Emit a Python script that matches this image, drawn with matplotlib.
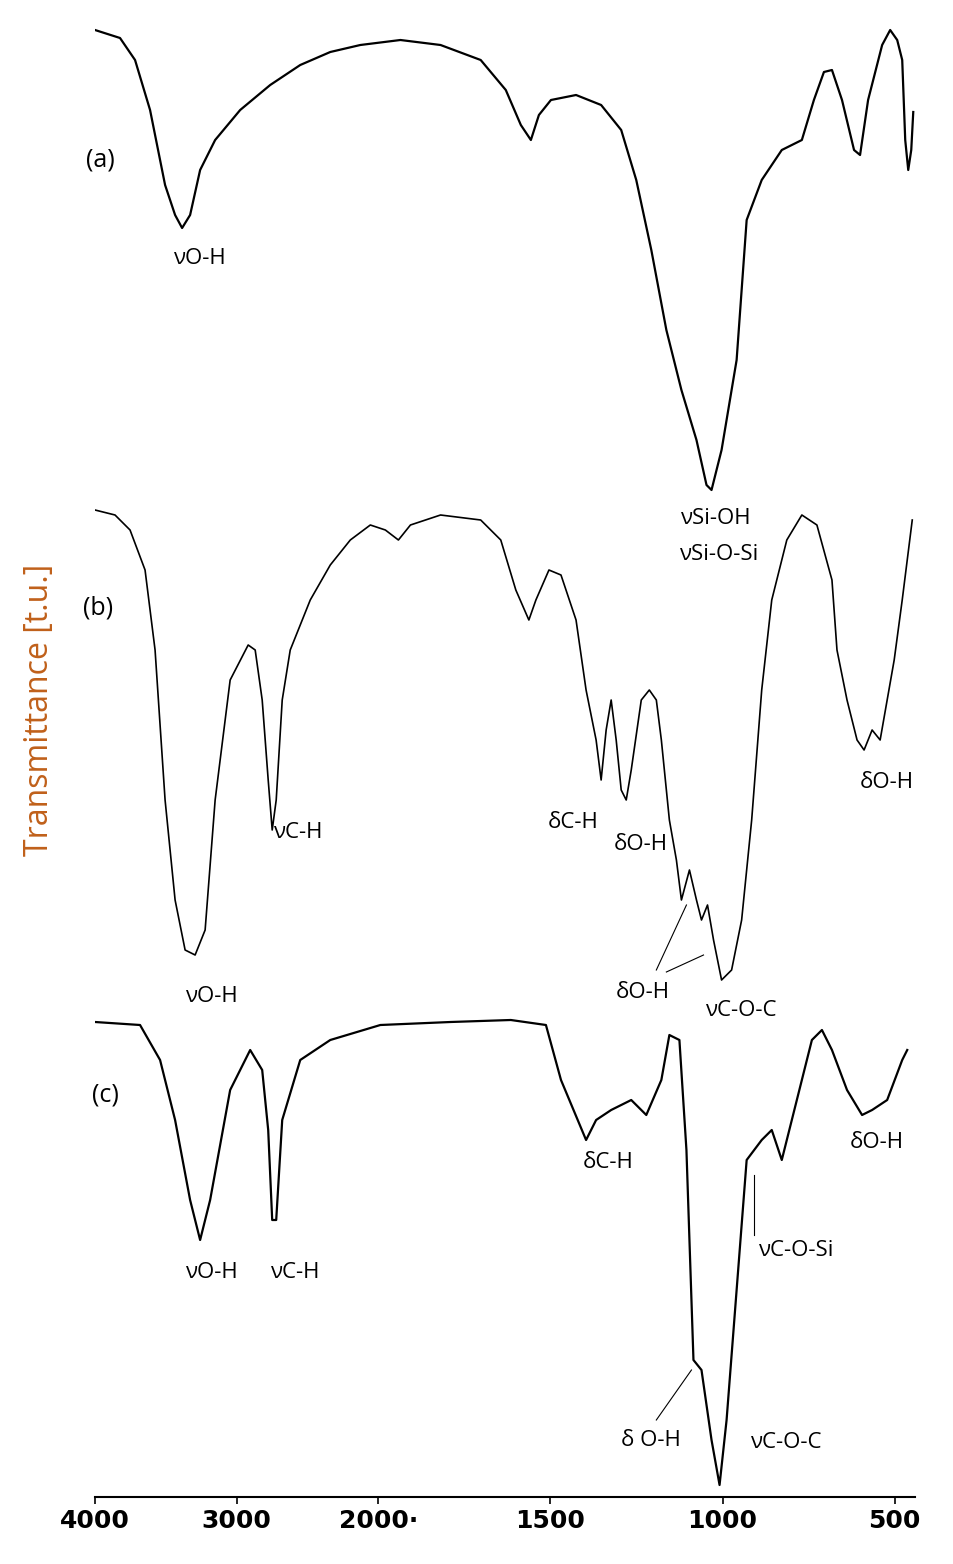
import numpy as np
import matplotlib
matplotlib.use("Agg")
import matplotlib.pyplot as plt

# pixel-x -> wavenumber helper used only for reading; data stored as wavenumbers
def px2w(x):
    x = np.asarray(x, float)
    return np.where(x <= 378, 4000 - (x - 95) / 141.5 * 1000, 2000 - (x - 378) / 343 * 1000)

a_x = [95,120,135,150,165,175,182,190,200,215,240,270,300,330,360,400,440,480,505,520,530,538,550,575,600,620,635,650,665,680,695,705,710,720,735,745,760,780,800,812,822,830,840,852,858,866,880,888,895,900,903,906,909,911]
a_y = [30,38,60,110,185,215,228,215,170,140,110,85,65,52,45,40,45,60,90,125,140,115,100,95,105,130,180,250,330,390,440,485,490,450,360,220,180,150,140,100,72,70,100,150,155,100,45,30,40,60,140,170,150,112]
b_x = [95,115,130,145,155,165,175,185,195,205,215,230,248,255,262,268,272,276,282,290,310,330,350,370,385,398,410,440,480,500,515,528,535,548,560,575,585,595,600,605,610,615,620,625,630,640,648,655,660,668,675,680,688,695,700,706,712,720,730,740,750,760,770,785,800,815,830,835,845,855,862,870,878,885,892,900,910]
b_y = [510,515,530,570,650,800,900,950,955,930,800,680,645,650,700,780,830,800,700,650,600,565,540,525,530,540,525,515,520,540,590,620,600,570,575,620,690,740,780,730,700,740,790,800,770,700,690,700,740,820,860,900,870,900,920,905,940,980,970,920,820,690,600,540,515,525,580,650,700,740,750,730,740,700,660,600,520]
c_x = [95,140,160,175,190,200,210,230,250,262,268,272,276,282,300,330,380,450,510,545,560,585,595,610,630,645,660,668,678,685,692,700,710,718,725,735,745,760,770,780,790,800,810,820,830,845,860,870,885,900,905]
c_y = [1022,1025,1060,1120,1200,1240,1200,1090,1050,1070,1130,1220,1220,1120,1060,1040,1025,1022,1020,1025,1080,1140,1120,1110,1100,1115,1080,1035,1040,1150,1360,1370,1440,1485,1420,1290,1160,1140,1130,1160,1120,1080,1040,1030,1050,1090,1115,1110,1100,1060,1050]

wn_a, wn_b, wn_c = px2w(a_x), px2w(b_x), px2w(c_x)
tick_vals = [4000, 3000, 2000, 1500, 1000, 500]
tick_labels = ["4000", "3000", "2000\u00b7", "1500", "1000", "500"]

def fwd(w):
    w = np.asarray(w, float)
    return -np.where(w >= 2000, (4000 - w) / 1000, 2 + (2000 - w) * 2.43 / 1000)
def inv(u):
    u = -np.asarray(u, float)
    return np.where(u <= 2, 4000 - 1000 * u, 2000 - (u - 2) * 1000 / 2.43)

plt.rcParams['font.family'] = ['Open Sans', 'DejaVu Sans']
fig = plt.figure(figsize=(9.54, 15.64), dpi=100)
ax = fig.add_axes([95/954, (1564-1497)/1564, (915-95)/954, 1497/1564])
ax.set_xscale('function', functions=(fwd, inv))
for w, y, lw in [(wn_a, a_y, 1.6), (wn_b, b_y, 1.2), (wn_c, c_y, 1.6)]:
    ax.plot(w, y, color='black', lw=lw)
ax.set_xlim(4000, 441)
ax.set_ylim(1497, 0)
ax.set_xticks(tick_vals)
ax.set_xticklabels(tick_labels, fontsize=18, fontweight='bold', family='DejaVu Sans')
ax.set_yticks([])
ax.minorticks_off()
for s in ['left', 'top', 'right']:
    ax.spines[s].set_visible(False)
ax.spines['bottom'].set_linewidth(1.5)
ax.tick_params(axis='x', length=5, width=1.2)

fs = 16
def t(xp, yp, s, size=fs):
    ax.text(float(px2w(xp)), yp, s, fontsize=size, ha='center', va='center')
t(100, 160, "(a)", 18); t(200, 258, "\u03bdO-H"); t(715, 518, "\u03bdSi-OH"); t(718, 555, "\u03bdSi-O-Si")
t(98, 608, "(b)", 18); t(298, 832, "\u03bdC-H"); t(212, 997, "\u03bdO-H"); t(572, 822, "\u03b4C-H")
t(640, 845, "\u03b4O-H"); t(642, 993, "\u03b4O-H"); t(740, 1010, "\u03bdC-O-C"); t(885, 783, "\u03b4O-H")
t(105, 1095, "(c)", 18); t(212, 1273, "\u03bdO-H"); t(296, 1273, "\u03bdC-H"); t(607, 1162, "\u03b4C-H")
t(875, 1142, "\u03b4O-H"); t(795, 1250, "\u03bdC-O-Si"); t(650, 1440, "\u03b4 O-H"); t(785, 1442, "\u03bdC-O-C")

def ln(x0, y0, x1, y1):
    ax.plot(px2w([x0, x1]), [y0, y1], color='black', lw=0.8)
ln(655, 970, 685, 905); ln(665, 972, 702, 955)
ln(752, 1235, 752, 1175); ln(655, 1420, 690, 1370)

fig.text(40/954, 1 - 710/1564, "Transmittance [t.u.]", rotation=90, ha='center', va='center',
         fontsize=23, color='#c0601a')
fig.savefig("out.png", dpi=100)
